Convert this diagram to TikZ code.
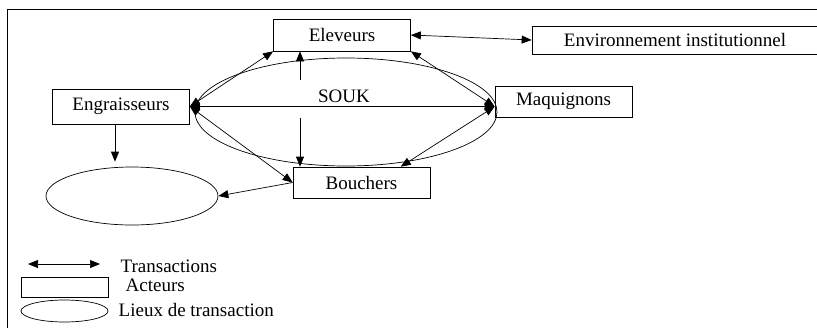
\documentclass[tikz,border=0pt]{standalone}
\usepackage{fontspec}
\setmainfont{Liberation Serif}
\usetikzlibrary{arrows.meta,positioning,shapes.geometric}

\begin{document}
\begin{tikzpicture}[x=1pt,y=-1pt,>={Triangle[length=10pt,width=8pt]},line width=0.7pt,
  font=\fontsize{19}{22}\selectfont,
  actor/.style={draw,rectangle,minimum width=137pt,minimum height=32pt,inner sep=0pt},
  place/.style={draw,ellipse,inner sep=0pt}]
  \useasboundingbox (0,0) rectangle (817,327);
  \clip (0,0) rectangle (817,327);
  \draw (830,9) -- (7,9) -- (7,340);
  % acteurs
  \node[actor] (elev) at (342,35) {Eleveurs};
  \node[actor,minimum width=286pt,minimum height=28pt] (env) at (675,40) {Environnement institutionnel};
  \node[actor,minimum height=35pt] (eng) at (121,106.5) {Engraisseurs};
  \node[actor,minimum height=31pt] (maq) at (563.5,101.5) {Maquignons};
  \node[actor,minimum height=31pt] (bouch) at (361.5,182.5) {Bouchers};
  % lieux
  \node[place,minimum width=302pt,minimum height=108pt] (souk) at (346,112) {};
  \node (souktxt) at (344,96) {SOUK};
  \node[place,minimum width=172pt,minimum height=58pt] (lieu) at (132,196) {};
  \coordinate (mq) at (eng.east -| maq.west);
  \coordinate (up) at (300,80);
  \coordinate (dn) at (300,118);
  % transactions
  \draw[<->] (elev.east) -- (env.west);
  \draw[<->] (eng.east) -- (mq);
  \draw[<->] (eng.east) -- (elev.south west);
  \draw[<->] (eng.east) -- (bouch.west);
  \draw[<->] (elev.south east) -- (mq);
  \draw[<->] (mq) -- (bouch.22);
  \draw[->] (up) -- (up |- elev.south);
  \draw[->] (dn) -- (dn |- bouch.north);
  \draw[->] ([xshift=-6pt]eng.south) -- ([xshift=-6pt,yshift=5pt]eng.south |- lieu.north);
  \draw[->] (bouch.west) -- (lieu.east);
  % legende
  \coordinate (la) at (28,264);
  \coordinate (lb) at (100,264);
  \draw[<->] (la) -- (lb);
  \node[anchor=west] (ltrans) at (117,266) {Transactions};
  \node[draw,rectangle,minimum width=87pt,minimum height=20pt,inner sep=0pt] (lact) at (64.5,287) {};
  \node[anchor=west] (lacttxt) at (122,285) {Acteurs};
  \node[place,minimum width=87pt,minimum height=22pt] (llieu) at (64.5,311) {};
  \node[anchor=west] (llieutxt) at (115,310) {Lieux de transaction};
\end{tikzpicture}
\end{document}
